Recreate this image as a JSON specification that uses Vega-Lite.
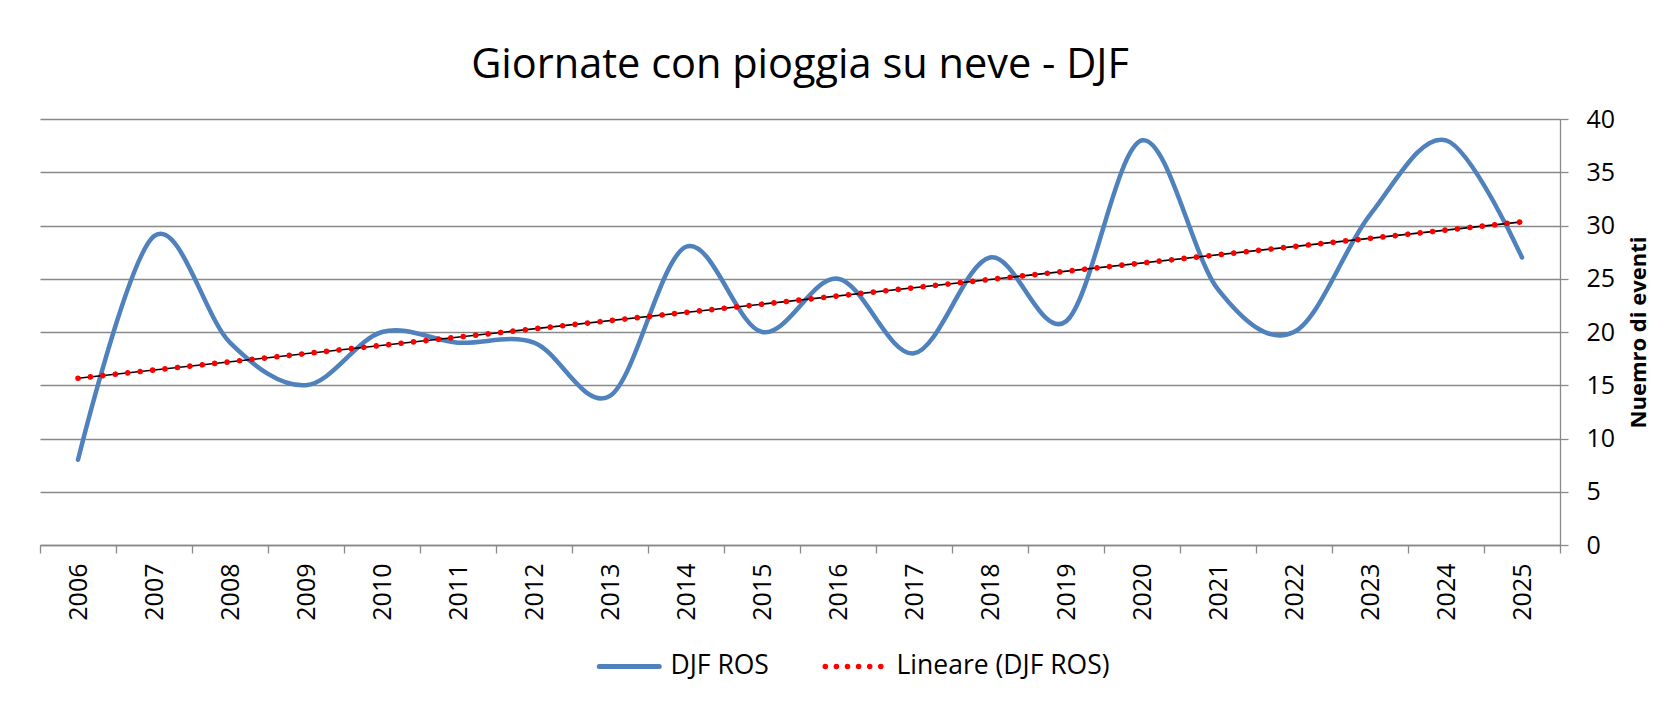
{
  "$schema": "https://vega.github.io/schema/vega-lite/v6.json",
  "autosize": "none",
  "width": 1520,
  "height": 426,
  "padding": {"left": 40, "top": 119, "right": 110, "bottom": 159},
  "background": "white",
  "title": {
    "text": "Giornate con pioggia su neve - DJF",
    "fontSize": 41.5,
    "font": "Open Sans",
    "fontWeight": "normal",
    "color": "#000000",
    "anchor": "middle",
    "frame": "group",
    "baseline": "alphabetic",
    "offset": 39,
    "dy": 51
  },
  "config": {"view": {"stroke": null}, "font": "Open Sans"},
  "data": {
    "values": [
      {"year": 2006, "djf": 8},
      {"year": 2007, "djf": 29},
      {"year": 2008, "djf": 19},
      {"year": 2009, "djf": 15},
      {"year": 2010, "djf": 20},
      {"year": 2011, "djf": 19},
      {"year": 2012, "djf": 19},
      {"year": 2013, "djf": 14},
      {"year": 2014, "djf": 28},
      {"year": 2015, "djf": 20},
      {"year": 2016, "djf": 25},
      {"year": 2017, "djf": 18},
      {"year": 2018, "djf": 27},
      {"year": 2019, "djf": 21},
      {"year": 2020, "djf": 38},
      {"year": 2021, "djf": 24},
      {"year": 2022, "djf": 20},
      {"year": 2023, "djf": 31},
      {"year": 2024, "djf": 38},
      {"year": 2025, "djf": 27}
    ]
  },
  "encoding": {
    "x": {
      "field": "year",
      "type": "ordinal",
      "scale": {"type": "band", "paddingInner": 0, "paddingOuter": 0},
      "axis": {
        "title": null,
        "labelAngle": 270,
        "labelFontSize": 25,
        "labelColor": "#000000",
        "labelPadding": 10,
        "tickBand": "extent",
        "tickSize": 8,
        "tickColor": "#898989",
        "tickWidth": 1.3,
        "domainColor": "#898989",
        "domainWidth": 1.3,
        "grid": false
      }
    },
    "y": {
      "field": "djf",
      "type": "quantitative",
      "scale": {"domain": [0, 40], "nice": false, "zero": true},
      "axis": {
        "orient": "right",
        "values": [0, 5, 10, 15, 20, 25, 30, 35, 40],
        "title": "Nuemro di eventi",
        "titleFontSize": 22,
        "titleFontWeight": "bold",
        "titleColor": "#000000",
        "titleAngle": 270,
        "titleBaseline": "top",
        "titlePadding": 14,
        "labelFontSize": 25,
        "labelColor": "#000000",
        "labelPadding": 18,
        "tickSize": 8,
        "tickColor": "#898989",
        "tickWidth": 1.3,
        "domainColor": "#898989",
        "domainWidth": 1.3,
        "gridColor": "#898989",
        "gridWidth": 1.3
      }
    }
  },
  "layer": [
    {
      "mark": {"type": "line", "interpolate": "cardinal", "strokeWidth": 4.5, "strokeCap": "round", "strokeJoin": "round"},
      "encoding": {
        "color": {
          "datum": "DJF ROS",
          "scale": {"domain": ["DJF ROS", "Lineare (DJF ROS)"], "range": ["#4F81BD", "#FF0000"]},
          "legend": {
            "title": null,
            "orient": "none",
            "legendX": 576,
            "legendY": 534,
            "direction": "horizontal",
            "padding": 0,
            "symbolType": "stroke",
            "symbolSize": 3600,
            "symbolStrokeWidth": 5,
            "labelFontSize": 26.5,
            "labelColor": "#000000",
            "labelOffset": 28,
            "labelLimit": 500,
            "columnPadding": 45,
            "encode": {
              "symbols": {
                "update": {
                  "strokeDash": {"signal": "datum.value === 'DJF ROS' ? [1, 0] : [0.1, 11]"},
                  "strokeCap": {"value": "round"},
                  "strokeWidth": {"signal": "datum.value === 'DJF ROS' ? 5 : 5.5"}
                }
              }
            }
          }
        }
      }
    },
    {
      "transform": [{"regression": "djf", "on": "year"}],
      "mark": {"type": "line", "color": "#000000", "strokeWidth": 1.6}
    },
    {
      "transform": [{"regression": "djf", "on": "year"}],
      "mark": {"type": "line", "strokeWidth": 5.7, "strokeDash": [0.1, 12.4], "strokeCap": "round"},
      "encoding": {"color": {"datum": "Lineare (DJF ROS)"}}
    }
  ]
}
